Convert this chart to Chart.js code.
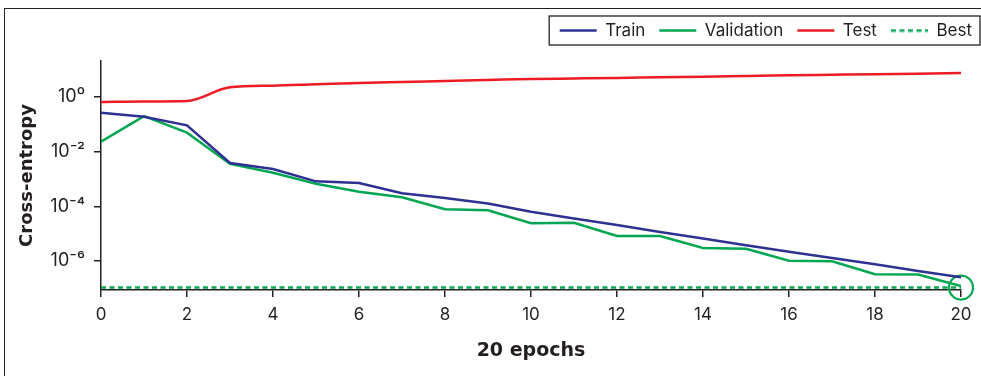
<!DOCTYPE html>
<html>
<head>
<meta charset="utf-8">
<script src="https://cdn.jsdelivr.net/npm/chart.js@4.4.1/dist/chart.umd.min.js"></script>
<style>
    html, body { margin: 0; padding: 0; background: #fff; }
    #wrap { position: relative; width: 981px; height: 376px; }
    #frame { position: absolute; left: 4px; top: 8px; width: 1000px; height: 400px;
        border-left: 1px solid #222; border-top: 1px solid #222; pointer-events: none; }
</style>
</head>
<body>
<div id="wrap">
    <canvas id="lossChart" width="981" height="376"></canvas>
    <div id="frame"></div>
</div>
<script>
const epochs = [0, 1, 2, 3, 4, 5, 6, 7, 8, 9, 10, 11, 12, 13, 14, 15, 16, 17, 18, 19, 20];

const trainLoss = [0.267, 0.19, 0.092, 0.00385, 0.00232, 8.2e-4, 7.1e-4, 3.0e-4, 2.0e-4, 1.27e-4,
    6.3e-5, 3.6e-5, 2.08e-5, 1.15e-5, 6.6e-6, 3.8e-6, 2.2e-6, 1.3e-6, 7.6e-7, 4.3e-7, 2.57e-7];

const validationLoss = [0.0231, 0.20, 0.0494, 0.00355, 0.0017, 6.7e-4, 3.4e-4, 2.14e-4, 7.8e-5, 7.2e-5,
    2.4e-5, 2.5e-5, 8.2e-6, 8.2e-6, 3.0e-6, 2.8e-6, 1.03e-6, 9.8e-7, 3.3e-7, 3.2e-7, 1.22e-7];

const testLoss = [0.656, 0.685, 0.714, 2.26, 2.59, 2.92, 3.25, 3.54, 3.85, 4.19,
    4.56, 4.75, 4.96, 5.26, 5.53, 5.87, 6.22, 6.49, 6.77, 7.12, 7.55];

const bestLoss = 1.07e-7;
const bestEpoch = 20;

const yTickValues = [1e-6, 1e-4, 1e-2, 1];
const yTickLabels = ['10⁻⁶', '10⁻⁴', '10⁻²', '10⁰'];
const xTickStep = 2;

const seriesNames = ['Train', 'Validation', 'Test', 'Best'];

const green = '#00a651';

function toPoints(values) {
    return epochs.map((e, i) => ({ x: e, y: values[i] }));
}

// dashed sample for the legend (pointStyle 'line' ignores borderDash)
const dashIcon = document.createElement('canvas');
dashIcon.width = 37;
dashIcon.height = 4;
(function () {
    const c = dashIcon.getContext('2d');
    c.strokeStyle = green;
    c.lineWidth = 2.5;
    c.setLineDash([5, 3.5]);
    c.beginPath();
    c.moveTo(0, 2);
    c.lineTo(37, 2);
    c.stroke();
})();

// empty boxes: gap under the legend and room on the right
const layoutGaps = {
    id: 'layoutGaps',
    beforeInit(chart) {
        Chart.layouts.addBox(chart, {
            position: 'top', weight: 500, fullSize: true, options: {},
            top: 0, left: 0, right: 0, bottom: 0, width: 0, height: 0,
            isHorizontal() { return true; },
            update(maxWidth) { this.width = maxWidth; this.height = 12; },
            draw() {}
        });
        Chart.layouts.addBox(chart, {
            position: 'right', weight: 500, fullSize: false, options: {},
            top: 0, left: 0, right: 0, bottom: 0, width: 0, height: 0,
            isHorizontal() { return false; },
            update(maxWidth, maxHeight) { this.width = 25; this.height = maxHeight; },
            draw() {}
        });
    }
};

// black box round the legend
const legendBorder = {
    id: 'legendBorder',
    afterDraw(chart) {
        const boxes = chart.legend.legendHitBoxes;
        if (!boxes || !boxes.length) return;
        const first = boxes[0], last = boxes[boxes.length - 1];
        const ctx = chart.ctx;
        ctx.save();
        ctx.strokeStyle = '#222';
        ctx.lineWidth = 1.3;
        ctx.strokeRect(first.left - 10.5, first.top - 6, last.left + last.width - first.left + 18.5, first.height + 12);
        ctx.restore();
    }
};

const textColor = '#231f20';

var ctx = document.getElementById('lossChart').getContext('2d');
var lossChart = new Chart(ctx, {
    type: 'line',
    data: {
        datasets: [{
            label: seriesNames[0],
            data: toPoints(trainLoss),
            borderColor: '#2e3192',
            backgroundColor: '#2e3192',
            borderWidth: 2.5,
            pointRadius: 0
        }, {
            label: seriesNames[1],
            data: toPoints(validationLoss),
            borderColor: green,
            backgroundColor: green,
            borderWidth: 2.5,
            pointRadius: 0
        }, {
            label: seriesNames[2],
            data: toPoints(testLoss),
            borderColor: '#ed1c24',
            backgroundColor: '#ed1c24',
            borderWidth: 2.5,
            cubicInterpolationMode: 'monotone',
            pointRadius: 0
        }, {
            label: seriesNames[3],
            data: [{ x: epochs[0], y: bestLoss }, { x: epochs[epochs.length - 1], y: bestLoss }],
            borderColor: green,
            backgroundColor: green,
            borderWidth: 2.5,
            borderDash: [5, 3.5],
            pointRadius: 0,
            pointStyle: dashIcon
        }, {
            label: 'bestPoint',
            data: [{ x: bestEpoch, y: bestLoss }],
            showLine: false,
            clip: false,
            pointRadius: 12,
            pointBorderWidth: 2.2,
            pointBorderColor: green,
            pointBackgroundColor: 'rgba(0,0,0,0)',
            borderColor: green
        }]
    },
    options: {
        responsive: false,
        animation: false,
        layout: { padding: { top: 8, right: -5, left: 0, bottom: 0 } },
        plugins: {
            tooltip: { enabled: false },
            legend: {
                position: 'top',
                align: 'end',
                labels: {
                    filter: item => item.text !== 'bestPoint',
                    usePointStyle: true,
                    pointStyleWidth: 37,
                    padding: 14,
                    color: textColor,
                    font: { family: 'Inter', size: 17 },
                    generateLabels: chart => {
                        const items = Chart.defaults.plugins.legend.labels.generateLabels(chart);
                        items.forEach(item => {
                            if (item.text !== seriesNames[3]) item.pointStyle = 'line';
                        });
                        return items;
                    }
                }
            }
        },
        scales: {
            x: {
                type: 'linear',
                min: 0,
                max: 20,
                ticks: {
                    stepSize: xTickStep,
                    padding: 8,
                    color: textColor,
                    font: { family: 'Inter', size: 17 }
                },
                grid: { drawOnChartArea: false, drawTicks: true, tickLength: 7, color: '#222', lineWidth: 1.5 },
                border: { color: '#222', width: 1.5 },
                title: {
                    display: true,
                    text: '20 epochs',
                    color: textColor,
                    font: { family: 'DejaVu Sans', size: 19, weight: 'bold' },
                    padding: { top: 0, bottom: 14 }
                },
                afterFit: scale => { scale.height = 86; }
            },
            y: {
                type: 'logarithmic',
                min: 8.7e-8,
                max: 20.7,
                afterBuildTicks: scale => {
                    scale.ticks = yTickValues.map(v => ({ value: v }));
                },
                ticks: {
                    padding: 9,
                    color: textColor,
                    font: { family: 'Inter', size: 18 },
                    callback: value => {
                        const i = yTickValues.indexOf(value);
                        return i >= 0 ? yTickLabels[i] : '';
                    }
                },
                grid: { drawOnChartArea: false, drawTicks: true, tickLength: 7, color: '#222', lineWidth: 1.5 },
                border: { color: '#222', width: 1.5 },
                title: {
                    display: true,
                    text: 'Cross-entropy',
                    color: textColor,
                    font: { family: 'DejaVu Sans', size: 18, weight: 'bold' },
                    padding: { top: 17, bottom: 0 }
                },
                afterFit: scale => { scale.width = 101; }
            }
        }
    },
    plugins: [layoutGaps, legendBorder]
});
</script>
</body>
</html>
